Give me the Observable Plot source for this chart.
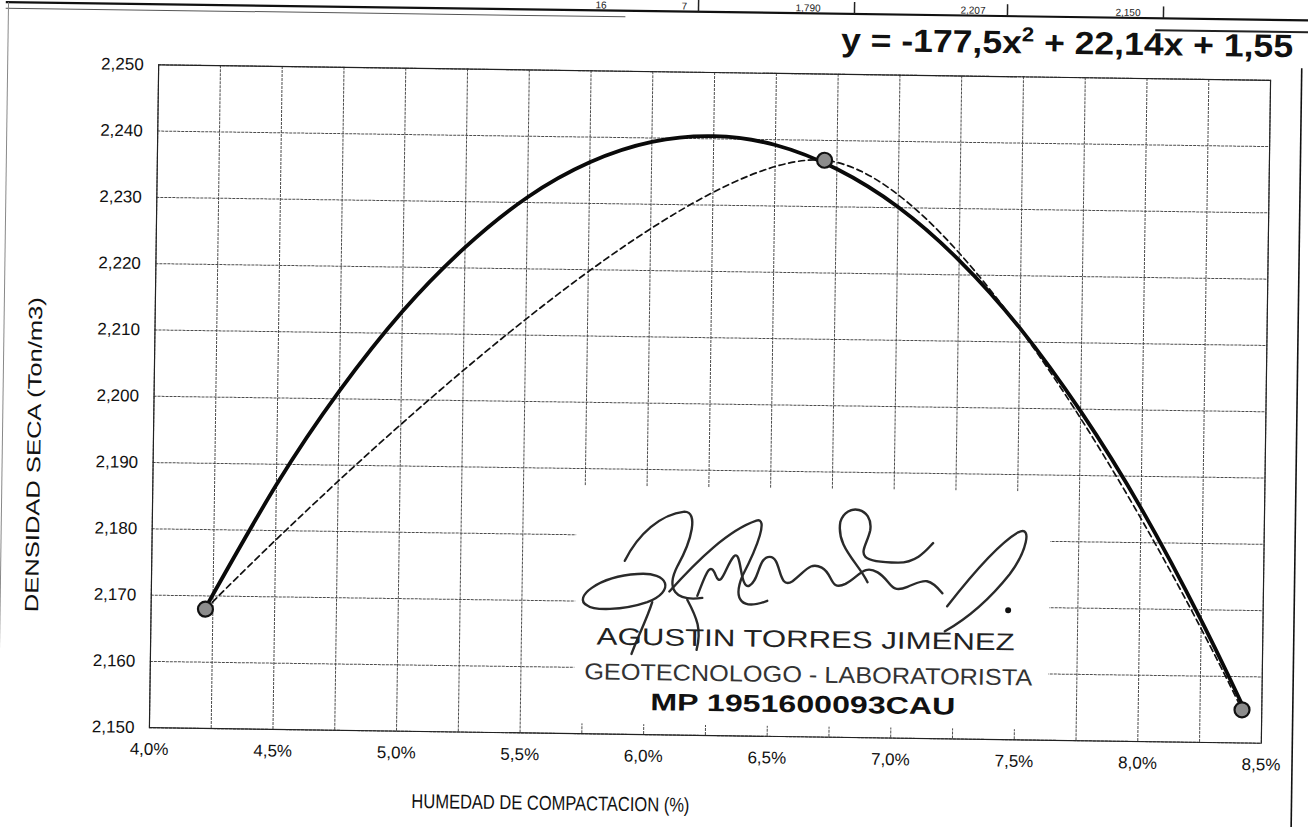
<!DOCTYPE html>
<html>
<head>
<meta charset="utf-8">
<script src="https://cdn.jsdelivr.net/npm/d3@7"></script>
<script src="https://cdn.jsdelivr.net/npm/@observablehq/plot@0.6"></script>
<style>
  html, body { margin: 0; padding: 0; background: #fff; overflow: hidden; }
  #wrap { position: relative; width: 1308px; height: 827px; background: #fff;
          transform: rotate(0.8deg); transform-origin: 709.5px 403.5px; }
  #chart { position: absolute; left: 0; top: 0; }
  #overlay { position: absolute; left: 0; top: 0; pointer-events: none; }
  text { font-family: "Liberation Sans", Arial, sans-serif; }
</style>
</head>
<body>
<div id="wrap">
  <div id="chart"></div>
  <svg id="overlay" width="1308" height="827" xmlns="http://www.w3.org/2000/svg"></svg>
</div>
<script>
// ---- data ----
const humedad = [4.22, 6.70, 8.42];            // % moisture of the three test points
const densidad = [2.168, 2.237, 2.155];        // dry density (Ton/m3)

// polynomial trend line
const trendHumedad = [4.22, 4.5, 4.75, 5.0, 5.25, 5.5, 5.75, 6.0, 6.25, 6.5, 6.75, 7.0, 7.25, 7.5, 7.75, 8.0, 8.25, 8.42];
const trendDensidad = [2.1682, 2.1869, 2.2012, 2.2133, 2.2231, 2.2308, 2.2362, 2.2394, 2.2404, 2.2392, 2.2357, 2.2301, 2.2222, 2.2121, 2.1997, 2.1852, 2.1684, 2.1558];

const xTicks = [4.0, 4.5, 5.0, 5.5, 6.0, 6.5, 7.0, 7.5, 8.0, 8.5];
const xGrid = [4.0, 4.25, 4.5, 4.75, 5.0, 5.25, 5.5, 5.75, 6.0, 6.25, 6.5, 6.75, 7.0, 7.25, 7.5, 7.75, 8.0, 8.25, 8.5];
const yTicks = [2.150, 2.160, 2.170, 2.180, 2.190, 2.200, 2.210, 2.220, 2.230, 2.240, 2.250];

const equation = ["y = -177,5x", "2", " + 22,14x + 1,55"];
const xTitle = "HUMEDAD DE COMPACTACION (%)";
const yTitle = "DENSIDAD SECA (Ton/m3)";
const stampLines = ["AGUSTIN TORRES JIMENEZ", "GEOTECNOLOGO - LABORATORISTA", "MP 1951600093CAU"];
const tableFragments = ["16", "7", "1,790", "2,207", "2,150"];

// ---- build tables ----
const points = humedad.map((h, i) => ({h, d: densidad[i]}));
const trend = trendHumedad.map((h, i) => ({h, d: trendDensidad[i]}));

const fmtX = d => d.toFixed(1).replace(".", ",") + "%";
const fmtY = d => d.toFixed(3).replace(".", ",");

const chart = Plot.plot({
  width: 1308,
  height: 827,
  marginLeft: 153.5,
  marginRight: 42.5,
  marginTop: 72,
  marginBottom: 92,
  style: { fontFamily: "'Liberation Sans', Arial, sans-serif", fontSize: "17px", color: "#111", background: "transparent" },
  x: { domain: [4.0, 8.5], label: null },
  y: { domain: [2.150, 2.250], label: null },
  marks: [
    Plot.gridX(xGrid, { stroke: "#3a3a3a", strokeOpacity: 0.9, strokeWidth: 1, strokeDasharray: "3,1" }),
    Plot.gridY(yTicks, { stroke: "#3a3a3a", strokeOpacity: 0.9, strokeWidth: 1, strokeDasharray: "3,1" }),
    Plot.frame({ stroke: "#222", strokeWidth: 1.2 }),
    Plot.axisX(xTicks, { tickSize: 0, tickPadding: 15, tickFormat: fmtX, fontSize: 17 }),
    Plot.axisY(yTicks, { tickSize: 0, tickPadding: 15, tickFormat: fmtY, fontSize: 17 }),
    Plot.line(trend, { x: "h", y: "d", curve: "natural", stroke: "#0a0a0a", strokeWidth: 3.8 }),
    Plot.line(points, { x: "h", y: "d", curve: "cardinal", tension: 0.05, stroke: "#111", strokeWidth: 1.7, strokeDasharray: "6,4" }),
    Plot.dot(points, { x: "h", y: "d", r: 7.5, fill: "#8c8c8c", stroke: "#111", strokeWidth: 2.2 })
  ]
});
document.getElementById("chart").appendChild(chart);

// ---- overlay: equation, titles, stamp, page lines ----
const ov = d3.select("#overlay");

// page / table borders
ov.append("line").attr("x1", 0).attr("x2", 1308).attr("y1", 12).attr("y2", 12).attr("stroke", "#111").attr("stroke-width", 2.2);
ov.append("line").attr("x1", 0).attr("x2", 620).attr("y1", 18).attr("y2", 18).attr("stroke", "#555").attr("stroke-width", 1);
ov.append("line").attr("x1", 1150).attr("x2", 1308).attr("y1", 24).attr("y2", 24).attr("stroke", "#222").attr("stroke-width", 2);
[693, 849, 1002, 1158].forEach(x =>
  ov.append("line").attr("x1", x).attr("x2", x).attr("y1", 0).attr("y2", 12).attr("stroke", "#222").attr("stroke-width", 1.5));
const fragX = [590, 676, 790, 955, 1110];
tableFragments.forEach((t, i) =>
  ov.append("text").attr("x", fragX[i]).attr("y", 10).attr("font-size", 10).attr("fill", "#222").text(t));
ov.append("line").attr("x1", 3).attr("x2", 3).attr("y1", 12).attr("y2", 827).attr("stroke", "#888").attr("stroke-width", 1);
ov.append("line").attr("x1", 1297).attr("x2", 1297).attr("y1", 60).attr("y2", 827).attr("stroke", "#111").attr("stroke-width", 1.6);

// equation
const eq = ov.append("text").attr("x", 836).attr("y", 49).attr("font-size", 32).attr("font-weight", "bold")
  .attr("fill", "#111").attr("textLength", 452).attr("lengthAdjust", "spacingAndGlyphs");
eq.append("tspan").text(equation[0]);
eq.append("tspan").attr("dy", -12).attr("font-size", 20).text(equation[1]);
eq.append("tspan").attr("dy", 12).text(equation[2]);

// axis titles
ov.append("text").attr("x", 556).attr("y", 812).attr("text-anchor", "middle").attr("font-size", 20)
  .attr("fill", "#111").attr("textLength", 278).attr("lengthAdjust", "spacingAndGlyphs").text(xTitle);
ov.append("text").attr("transform", "translate(41,464) rotate(-90)").attr("text-anchor", "middle").attr("font-size", 19)
  .attr("fill", "#111").attr("textLength", 315).attr("lengthAdjust", "spacingAndGlyphs").text(yTitle);

// stamp (white paper patch over the grid)
ov.append("rect").attr("x", 578).attr("y", 487).attr("width", 474).attr("height", 238).attr("fill", "#fff");
const sig = [
  "M590,607 C575,600 600,578 640,575 C672,572 678,592 650,603 C625,612 596,612 590,607",
  "M627,562 C640,535 662,515 686,512 C700,512 694,540 680,566 C668,590 678,602 705,598",
  "M672,592 C700,560 730,530 758,520 C770,516 760,545 745,575 C735,600 745,610 770,600",
  "M700,596 C708,575 712,560 718,575 C724,590 728,565 736,556 C744,548 742,590 752,585 C762,580 760,556 772,556 C784,556 780,590 795,580 C808,570 812,560 824,566 C836,572 832,590 848,582 C862,574 866,562 880,570 C894,578 892,592 910,584 C925,578 930,572 945,590",
  "M870,580 C860,560 838,545 842,520 C848,500 875,505 872,528 C868,548 850,560 900,560 C920,560 930,545 935,540",
  "M950,603 C975,570 1000,540 1020,528 C1035,520 1028,548 1012,570 C995,592 975,612 948,628",
  "M655,603 C650,620 640,640 635,655",
  "M690,600 C700,618 705,630 700,650"
];
sig.forEach(p => ov.append("path").attr("d", p).attr("fill", "none").attr("stroke", "#2a2a2a").attr("stroke-width", 2.4).attr("stroke-linecap", "round"));
ov.append("circle").attr("cx", 1011).attr("cy", 606).attr("r", 3).attr("fill", "#111");

ov.append("text").attr("x", 809).attr("y", 646).attr("text-anchor", "middle").attr("font-size", 24)
  .attr("fill", "#222").attr("textLength", 418).attr("lengthAdjust", "spacingAndGlyphs").text(stampLines[0]);
ov.append("text").attr("x", 812).attr("y", 681).attr("text-anchor", "middle").attr("font-size", 23)
  .attr("fill", "#333").attr("textLength", 448).attr("lengthAdjust", "spacingAndGlyphs").text(stampLines[1]);
ov.append("text").attr("x", 807).attr("y", 711).attr("text-anchor", "middle").attr("font-size", 24).attr("font-weight", "bold")
  .attr("fill", "#111").attr("textLength", 305).attr("lengthAdjust", "spacingAndGlyphs").text(stampLines[2]);
</script>
</body>
</html>
